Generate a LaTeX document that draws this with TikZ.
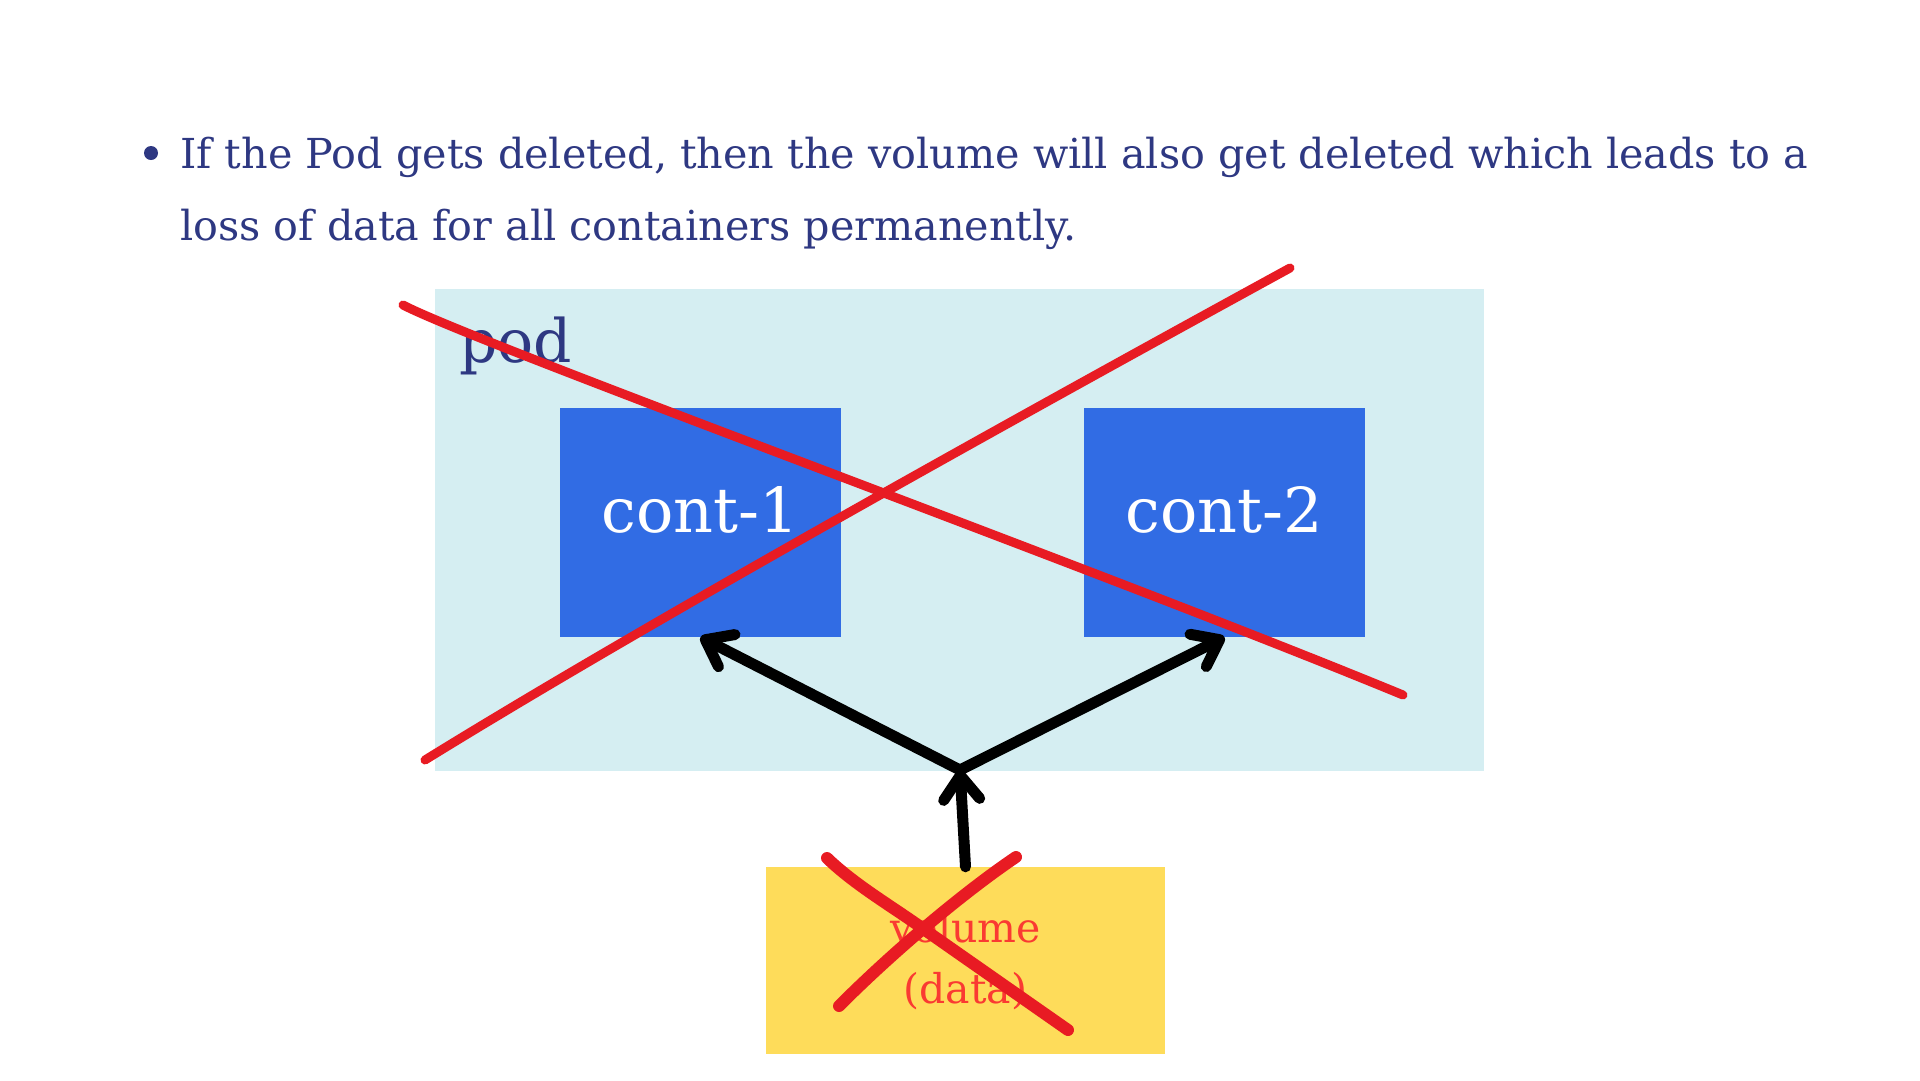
\documentclass[tikz,border=0pt]{standalone}
\usepackage{fontspec}
\setmainfont{DejaVu Serif}
\usetikzlibrary{arrows.meta}
\definecolor{navy}{RGB}{46,56,130}
\definecolor{podbg}{RGB}{213,238,242}
\definecolor{contblue}{RGB}{49,108,228}
\definecolor{volyellow}{RGB}{254,220,90}
\definecolor{xred}{RGB}{232,27,35}
\definecolor{txtred}{RGB}{250,58,50}
\tikzset{
  podbox/.style={rectangle, fill=podbg, inner sep=0, minimum width=1049, minimum height=482},
  contbox/.style={rectangle, fill=contblue, inner sep=0, minimum width=281, minimum height=229,
    text=white, font=\fontsize{62}{62}\selectfont, text height=46, text depth=26},
  volbox/.style={rectangle, fill=volyellow, inner sep=0, minimum width=399, minimum height=187,
    text=txtred, font=\fontsize{41}{61}\selectfont, align=center},
  bodytext/.style={anchor=base west, inner sep=0, text=navy, font=\fontsize{41.3}{72}\selectfont},
  flow/.style={line width=11, line cap=round, line join=round, -{Straight Barb[angle=74:30pt, round]}},
  cross/.style={draw=xred, line width=9, line cap=round},
  smallcross/.style={draw=xred, line width=12, line cap=round}
}
\begin{document}
\begin{tikzpicture}[x=1pt, y=-1pt]
\useasboundingbox (0,0) rectangle (1920,1080);
% bullet text
\node[circle, fill=navy, minimum size=14, inner sep=0] (bul) at (151,153) {};
\node[bodytext] (t1) at (180,168) {If the Pod gets deleted, then the volume will also get deleted which leads to a};
\node[bodytext] (t2) at (180,240) {loss of data for all containers permanently.};
% pod
\node[podbox] (pod) at (959.5,530) {};
\node[anchor=base west, inner sep=0, text=navy, font=\fontsize{60}{60}\selectfont] (podlabel) at (459,362) {pod};
% containers
\node[contbox] (c1) at (700.5,522.5) {cont-1};
\node[contbox] (c2) at (1224.5,522.5) {cont-2};
% volume
\node[volbox] (vol) at (965.5,960.5) {volume\\(data)};
% arrows
\coordinate (j) at (960,770);
\draw[flow] (vol.north) -- (j);
\draw[flow] (j) -- (c1.south);
\draw[flow] (j) -- (c2.south);
% big cross
\draw[cross] (403,305) .. controls (480,345) and (1100,570) .. (1403,695);
\draw[cross] (425,760) .. controls (608,647) and (897,483) .. (1290,268);
% small cross on volume
\draw[smallcross] (827,858) .. controls (855,885) and (890,905) .. (925,930) -- (1068,1030);
\draw[smallcross] (1016,857) .. controls (970,888) and (900,945) .. (839,1006);
\end{tikzpicture}
\end{document}
